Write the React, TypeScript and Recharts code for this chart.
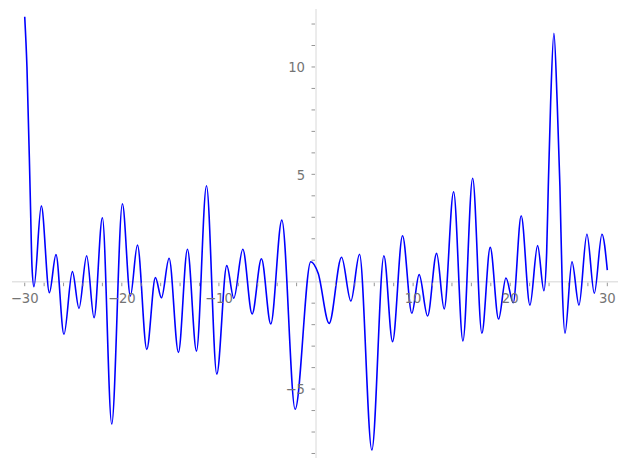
import { LineChart, Line, XAxis, YAxis, ReferenceLine, ReferenceDot } from "recharts";

// values (extrema plus a few points on the steep parts)
const xValues = [
  -30, -29.77, -29.42, -29.25, -29.05, -28.29, -27.46, -26.78, -25.96, -25.09,
  -24.41, -23.62, -22.86, -22.0, -21.04, -19.94, -19.12, -18.39, -17.43, -16.54,
  -15.92, -15.13, -14.17, -13.24, -12.31, -11.28, -10.22, -9.19, -8.47, -7.54,
  -6.58, -5.62, -4.66, -3.52, -2.15, -0.54, 0.22, 1.35, 2.63, 3.59,
  4.48, 5.75, 6.99, 7.88, 8.91, 9.87, 10.62, 11.49, 12.42, 13.2,
  14.17, 15.13, 16.13, 17.08, 17.94, 18.8, 19.56, 20.31, 21.13, 22.03,
  22.82, 23.47, 23.75, 23.92, 24.16, 24.5, 24.84, 25.12, 25.36, 25.64,
  26.36, 27.08, 27.9, 28.66, 29.45, 30,
];
const yValues = [
  12.34, 10.0, 3.81, 0.7, -0.23, 3.53, -0.51, 1.26, -2.45, 0.47,
  -1.24, 1.21, -1.68, 2.98, -6.63, 3.63, -0.67, 1.71, -3.15, 0.19,
  -0.75, 1.09, -3.29, 1.51, -3.23, 4.47, -4.3, 0.75, -0.77, 1.51,
  -1.5, 1.07, -1.97, 2.87, -5.94, 0.93, 0.39, -1.94, 1.14, -0.9,
  1.28, -7.84, 1.21, -2.79, 2.14, -1.47, 0.33, -1.6, 1.32, -1.27,
  4.19, -2.76, 4.82, -2.4, 1.6, -1.74, 0.17, -0.98, 3.07, -1.09,
  1.68, -0.42, 1.32, 4.42, 8.31, 11.57, 8.31, 4.42, -0.23, -2.4,
  0.93, -1.09, 2.21, -0.54, 2.21, 0.54,
];

const xTicks = [
  -30, -28, -26, -24, -22, -20, -18, -16, -14, -12, -10, -8, -6, -4, -2,
  2, 4, 6, 8, 10, 12, 14, 16, 18, 20, 22, 24, 26, 28, 30,
];
const xTickLabels = [-30, -20, -10, 10, 20, 30];
const yTicks = [-8, -7, -6, -5, -4, -3, -2, -1, 1, 2, 3, 4, 5, 6, 7, 8, 9, 10, 11, 12];
const yTickLabels = [-5, 5, 10];

const data = xValues.map((x, i) => ({ x, y: yValues[i] }));

const fmt = (v: number) => (v < 0 ? "\u2212" + Math.abs(v) : String(v));

const tickColor = "#8a8a8a";
const labelColor = "#747474";
const spineColor = "#e3e3e3";
const font = "DejaVu Sans, sans-serif";

function XTickMark({ cx, cy, value }: { cx: number; cy: number; value: number }) {
  const showLabel = xTickLabels.includes(value);
  return (
    <g>
      <line x1={cx} x2={cx} y1={cy + 1} y2={cy + 4.5} stroke={tickColor} strokeWidth={0.9} />
      {showLabel && (
        <text x={cx} y={cy + 21.5} textAnchor="middle" fontSize={13.2} fill={labelColor} fontFamily={font}>
          {fmt(value)}
        </text>
      )}
    </g>
  );
}

function YTickMark({ cx, cy, value }: { cx: number; cy: number; value: number }) {
  const showLabel = yTickLabels.includes(value);
  return (
    <g>
      <line x1={cx - 4.5} x2={cx - 1} y1={cy} y2={cy} stroke={tickColor} strokeWidth={0.9} />
      {showLabel && (
        <text x={cx - 11} y={cy + 5.3} textAnchor="end" fontSize={13.2} fill={labelColor} fontFamily={font}>
          {fmt(value)}
        </text>
      )}
    </g>
  );
}

export default function App() {
  return (
    <div style={{ position: "absolute", left: 0, top: 0, width: 627, height: 469, background: "#fff" }}>
      <LineChart width={627} height={469} data={data} margin={{ top: 9, right: 9, bottom: 11, left: 12 }}>
        <XAxis dataKey="x" type="number" domain={[-31.31, 31.1]} allowDataOverflow hide />
        <YAxis type="number" domain={[-8.21, 12.7]} allowDataOverflow hide />
        <ReferenceLine y={0} stroke={spineColor} strokeWidth={1.4} />
        <ReferenceLine x={0} stroke={spineColor} strokeWidth={1.4} />
        {xTicks.map((t) => (
          <ReferenceDot
            key={"xt" + t}
            x={t}
            y={0}
            r={0}
            shape={(p: any) => <XTickMark cx={p.cx} cy={p.cy} value={t} />}
          />
        ))}
        {yTicks.map((t) => (
          <ReferenceDot
            key={"yt" + t}
            x={0}
            y={t}
            r={0}
            shape={(p: any) => <YTickMark cx={p.cx} cy={p.cy} value={t} />}
          />
        ))}
        <Line
          dataKey="y"
          type="monotone"
          stroke="#0000ff"
          strokeWidth={1.6}
          dot={false}
          isAnimationActive={false}
        />
      </LineChart>
    </div>
  );
}
